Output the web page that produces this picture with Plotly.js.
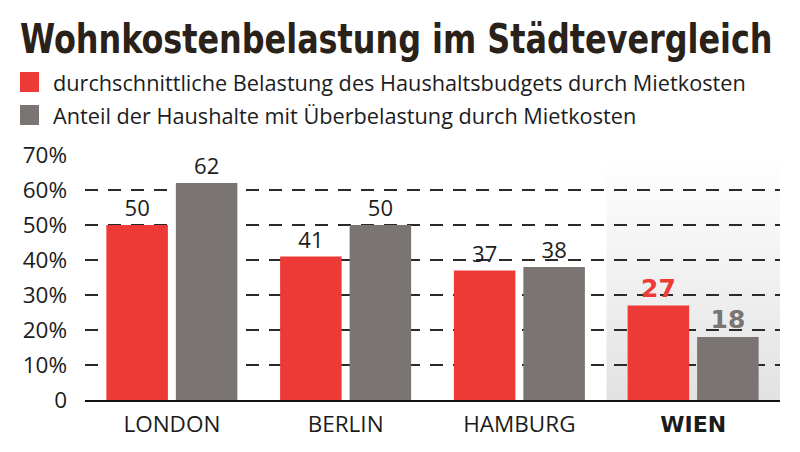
<!DOCTYPE html>
<html><head><meta charset="utf-8">
<script src="https://cdn.plot.ly/plotly-3.0.1.min.js"></script>
<style>html,body{margin:0;padding:0;background:#fff}#chart{width:800px;height:452px}</style>
</head><body><div id="chart"></div>
<script>
const titleText = 'Wohnkostenbelastung im Städtevergleich';
const cities = ['LONDON', 'BERLIN', 'HAMBURG', 'WIEN'];
const seriesNames = [
  'durchschnittliche Belastung des Haushaltsbudgets durch Mietkosten',
  'Anteil der Haushalte mit Überbelastung durch Mietkosten'
];
const avgBurden = [50, 41, 37, 27];
const overburdenShare = [62, 50, 38, 18];
const yTickVals = [0, 10, 20, 30, 40, 50, 60, 70];
const yTickText = ['0', '10%', '20%', '30%', '40%', '50%', '60%', '70%'];
const highlightCity = 'WIEN';

const RED = '#ee3a37', GREY = '#7a7472', INK = '#1c1c1c', TITLE_INK = '#2a2119';
const bodyFont = 'Open Sans, Noto Sans, sans-serif';
const heavyFont = 'DejaVu Sans, sans-serif';

// plot box in pixels
const L = 85, R = 780, T = 155, B = 400, W = 800, H = 452;
const px = x => (x - L) / (R - L);
const py = y => (B - y) / (B - T);

function makeTrace(name, values, color) {
  const hl = cities.map(c => c === highlightCity);
  return {
    type: 'bar', name: name, x: cities, y: values,
    marker: {color: color},
    text: values.map((v, i) => hl[i] ? '<b>' + v + '</b>' : String(v)),
    textposition: 'outside', cliponaxis: false,
    textfont: {
      family: hl.map(h => h ? heavyFont : bodyFont),
      size: hl.map(h => h ? 25 : 22),
      color: hl.map(h => h ? color : INK)
    },
    hoverinfo: 'skip'
  };
}

const traces = [
  makeTrace(seriesNames[0], avgBurden, RED),
  makeTrace(seriesNames[1], overburdenShare, GREY)
];

const gradSvg = '<svg xmlns="http://www.w3.org/2000/svg" width="10" height="100" preserveAspectRatio="none">' +
  '<defs><linearGradient id="g" x1="0" y1="0" x2="0" y2="1">' +
  '<stop offset="0" stop-color="#ffffff"/><stop offset="1" stop-color="#e2e2e2"/></linearGradient></defs>' +
  '<rect width="10" height="100" fill="url(#g)"/></svg>';

const tickText = cities.map(c => c === highlightCity
  ? '<span style="font-family:DejaVu Sans;font-weight:bold;font-size:22px">' + c + '</span>'
  : c);

const colors = [RED, GREY];
const shapes = [], annotations = [];
seriesNames.forEach((n, i) => {
  const top = 72 + i * 33;
  shapes.push({type: 'rect', xref: 'paper', yref: 'paper',
    x0: px(20), x1: px(39), y0: py(top + 20), y1: py(top),
    fillcolor: colors[i], line: {width: 0}});
  annotations.push({xref: 'paper', yref: 'paper', x: px(51), y: py(top + 10),
    xanchor: 'left', yanchor: 'middle', showarrow: false, text: n,
    font: {family: bodyFont, size: 21.7, color: INK}});
});

const layout = {
  width: W, height: H,
  margin: {l: L, r: W - R, t: T, b: H - B, pad: 0},
  paper_bgcolor: '#fff', plot_bgcolor: 'rgba(0,0,0,0)',
  showlegend: false,
  title: {text: titleText, x: 20 / W, xanchor: 'left', xref: 'container',
    y: 1 - 24 / H, yanchor: 'top', yref: 'container',
    font: {family: 'DejaVu Sans Condensed, DejaVu Sans, sans-serif', weight: 'bold', size: 41, color: TITLE_INK}},
  barmode: 'group', bargap: 0.2, bargroupgap: 0.115,
  xaxis: {type: 'category', tickvals: cities, ticktext: tickText, range: [-0.5, 3.5],
    showline: true, linecolor: '#111', linewidth: 2, ticks: '', showgrid: false,
    ticklabelstandoff: 3,
    tickfont: {family: bodyFont, size: 22.5, color: INK}, fixedrange: true},
  yaxis: {range: [0, 70], tickvals: yTickVals, ticktext: yTickText,
    showgrid: true, gridcolor: '#2a2a2a', gridwidth: 1.3, griddash: '13px,10px',
    zeroline: false, showline: false, ticks: '', ticklabelstandoff: 17,
    tickfont: {family: bodyFont, size: 22.5, color: INK}, fixedrange: true},
  images: [{source: 'data:image/svg+xml;charset=utf-8,' + encodeURIComponent(gradSvg),
    xref: 'x', yref: 'y', x: 2.5, y: 69.5, sizex: 1, sizey: 69.5,
    xanchor: 'left', yanchor: 'top', sizing: 'stretch', layer: 'below'}],
  shapes: shapes, annotations: annotations
};

function fitTitle(gd) {
  const t = gd.querySelector('.gtitle');
  if (!t) return;
  t.removeAttribute('transform');
  const bb = t.getBBox();
  if (!bb.width) return;
  const sx = 753 / bb.width;
  t.setAttribute('transform', 'translate(' + (20 - bb.x * sx) + ',0) scale(' + sx + ',1)');
}

Plotly.newPlot('chart', traces, layout, {displayModeBar: false, staticPlot: true}).then(gd => {
  fitTitle(gd);
  gd.on('plotly_afterplot', () => fitTitle(gd));
});
</script></body></html>
